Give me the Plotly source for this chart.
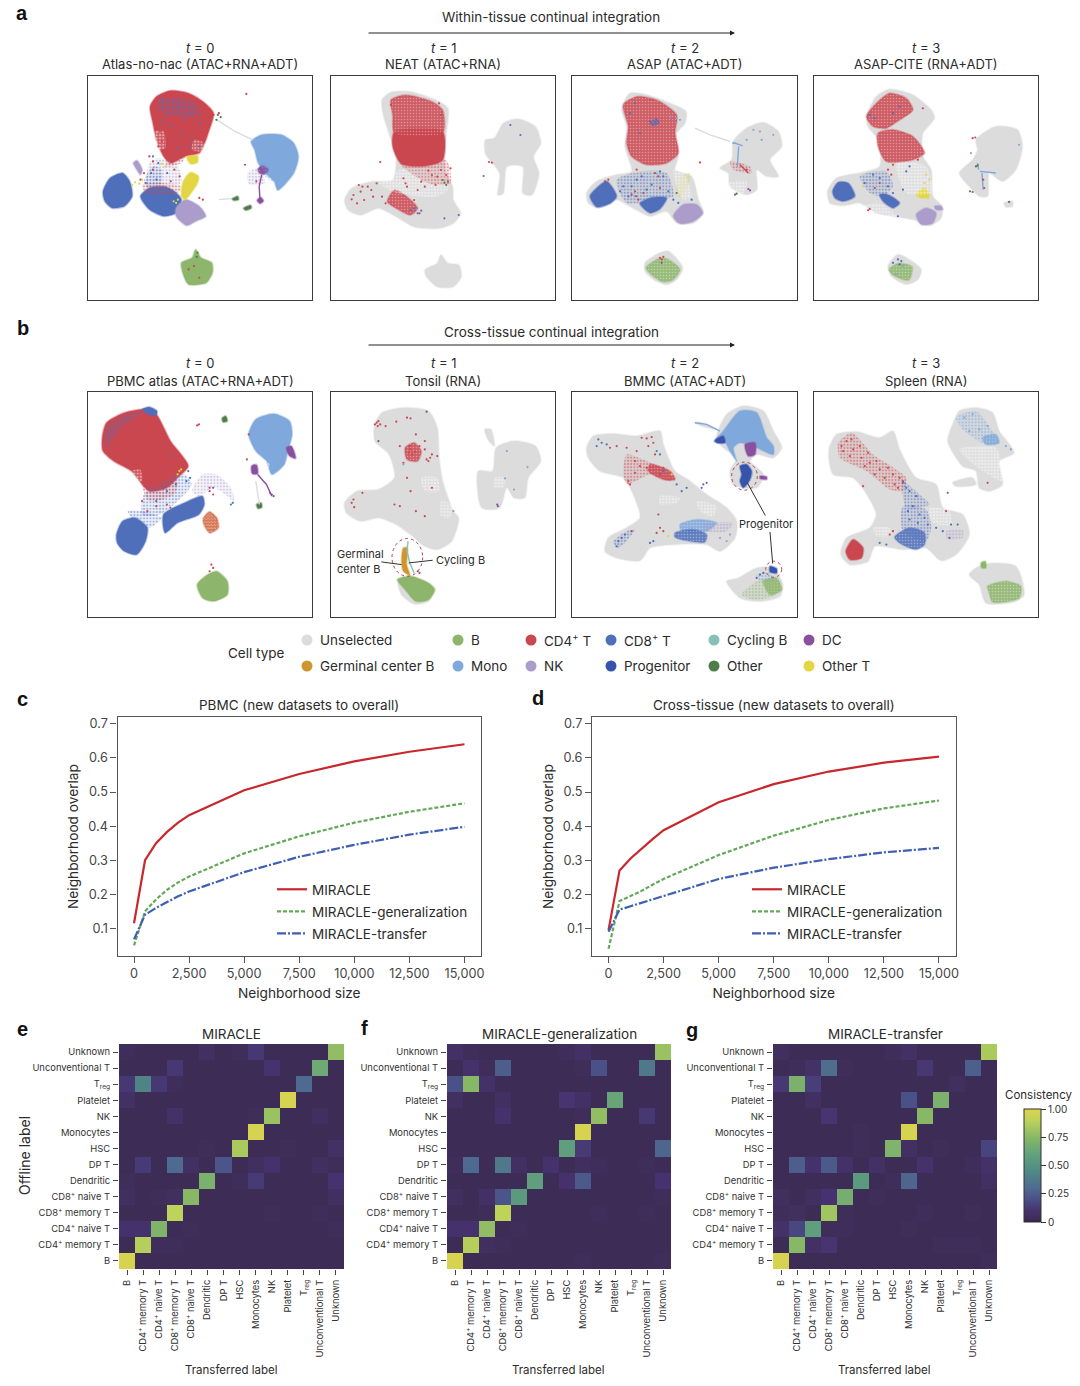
import plotly.graph_objects as go

W, H = 1080, 1386
FONT = "Inter"
DARK = "#2b2b2b"

COLORS = {"Unselected": "#dcdcdc", "B": "#8db56b", "CD4 T": "#cb4750", "CD8 T": "#4f6fbb",
          "Cycling B": "#86c0bb", "DC": "#8a4f9e", "Germinal": "#cf962e", "Mono": "#7fa8dc",
          "NK": "#ab9ccb", "Progenitor": "#3853ab", "Other": "#4f7d4a", "Other T": "#e3d645",
          "hole": "#ffffff"}

# ---- umap clouds (units of the crop, each panel has its own)
# DENSE solid clusters, MID speckled clusters, SPARSE thin clouds, POINTS single cells
A0_DENSE = [
    ("CD4 T", [(422,320),(440,290),(480,272),(530,280),(570,305),(600,340),(585,400),(575,430),(560,460),(520,470),(480,490),(460,470),(440,420),(430,370)]),
    ("Mono", [(705,425),(735,405),(790,405),(825,430),(838,470),(825,520),(780,572),(770,545),(745,520),(725,490),(715,450)]),
    ("CD8 T", [(290,575),(310,535),(345,520),(365,545),(372,590),(350,620),(315,625),(295,605)]),
    ("CD8 T", [(395,590),(420,565),(460,560),(490,575),(510,600),(495,640),(460,650),(420,630)]),
    ("NK", [(495,625),(520,600),(560,620),(578,650),(550,665),(525,678),(495,650)]),
    ("Other T", [(510,590),(515,545),(535,518),(558,530),(555,550),(530,590),(520,600)]),
    ("Other T", [(525,472),(555,468),(555,488),(535,492)]),
    ("NK", [(375,490),(385,482),(400,510),(395,525),(385,510)]),
    ("B", [(510,790),(540,775),(550,750),(565,775),(595,790),(597,820),(580,850),(530,855),(515,825)]),
    ("DC", [(724,508),(738,498),(754,510),(742,524),(728,520)]),
    ("DC", [(722,602),(732,593),(740,604),(730,612)]),
    ("Other", [(652,598),(668,590),(670,600),(656,602)]),
    ("Other", [(684,626),(704,617),(706,625),(690,632)]),
]
A0_SPARSE = [
    ("CD8 T", [(445,300),(510,295),(560,320),(545,350),(490,345),(450,335)]),
    ("hole", [(435,395),(460,395),(465,445),(440,450)]),
    ("hole", [(545,420),(575,430),(565,455),(540,450)]),
    ("NK", [(420,490),(445,475),(500,500),(510,550),(470,560),(415,560)]),
    ("CD4 T", [(470,470),(520,470),(510,490),(470,500)]),
    ("CD8 T", [(405,545),(430,500),(455,510),(450,560),(420,570)]),
    ("NK", [(695,520),(725,505),(745,550),(700,555)]),
    ("Mono", [(730,470),(760,500),(775,550),(745,530)]),
    ("CD4 T", [(400,555),(450,550),(510,560),(500,580),(410,580)]),
]
A0_STRANDS = [
    ("Unselected", [(610,360),(660,395),(710,420)]),
    ("DC", [(735,525),(728,560),(730,600)]),
    ("Unselected", [(615,600),(650,597)]),
]
A0_POINTS = {
    "CD8 T": [(470,350),(510,400),(530,440),(455,300),(560,370),(500,320),(560,345),(540,420),(480,380),(520,360),(455,365),(560,440),(500,445),(425,520),(440,540),(470,520),(410,550),(430,470),(445,490)],
    "Other T": [(380,548),(392,552),(372,556),(400,540),(495,610),(500,600),(488,605),(455,492),(465,500)],
    "CD4 T": [(692,282),(688,495),(720,545),(560,595),(570,600),(430,510),(545,800),(560,835),(530,810),(600,345),(615,340),(420,470),(430,485),(405,520),(395,540),(450,395),(445,440),(455,425),(460,455),(490,510),(505,530),(480,545)],
    "Other": [(612,345),(620,352),(608,360),(555,760),(553,772)],
}

A1_DENSE = [
    ("Unselected", [(1070,300),(1095,277),(1150,275),(1220,300),(1255,325),(1250,400),(1245,470),(1250,520),(1268,560),(1270,600),(1290,640),(1270,670),(1230,685),(1160,680),(1110,650),(1060,625),(1010,645),(975,630),(965,600),(985,565),(1040,545),(1100,540),(1110,480),(1090,400),(1075,350)]),
    ("Unselected", [(1385,415),(1410,370),(1450,357),(1500,380),(1515,430),(1495,470),(1510,520),(1490,585),(1465,580),(1465,500),(1420,500),(1410,580),(1395,585),(1400,520),(1360,460),(1360,420)]),
    ("Unselected", [(1190,810),(1225,790),(1235,765),(1255,790),(1285,795),(1292,830),(1270,860),(1225,860),(1195,830)]),
    ("CD4 T", [(1105,395),(1240,395),(1240,480),(1190,498),(1125,492),(1100,440)]),
]
A1_MID = [
    ("CD4 T", [(1095,300),(1135,285),(1210,305),(1240,330),(1240,400),(1105,400),(1100,345)]),
    ("CD4 T", [(1085,605),(1105,570),(1140,590),(1170,625),(1150,645),(1110,625)]),
]
A1_SPARSE = [
    ("hole", [(1060,545),(1120,510),(1240,510),(1255,570),(1220,590),(1100,575)]),
    ("CD4 T", [(1120,490),(1250,480),(1262,550),(1200,550)]),
]
A1_POINTS = {
    "CD4 T": [(1065,486),(1370,486),(1378,488),(1262,505),(1250,525),(1225,530),(1130,535),(1136,550),(1200,512),(1010,575),(1020,600),(985,598),(1030,560),(1045,590),(1005,555),(1190,560),(1175,640),(1210,525),(1095,315),(1235,345),(1230,310),(990,585),(1000,610),(1015,560),(1040,570),(1055,550),(1080,610),(1070,590),(1160,600),(1170,570),(1140,560),(1180,545),(1235,510),(1255,545),(1220,555)],
    "CD8 T": [(1160,625),(1150,630),(1170,640),(1180,632),(1245,655),(1285,645),(1355,528),(1430,375),(1458,405)],
    "Other": [(1245,548),(1240,540),(1250,555)],
}

A2_DENSE = [
    ("Unselected", [(190,310),(210,280),(260,285),(330,310),(378,335),(375,370),(350,400),(355,470),(345,510),(395,530),(415,600),(430,640),(400,670),(350,670),(320,635),(270,650),(210,620),(170,600),(115,625),(85,610),(80,580),(110,545),(170,525),(215,515),(195,440),(200,380),(185,330)]),
    ("Unselected", [(520,425),(560,385),(610,368),(655,395),(665,440),(630,480),(655,530),(620,530),(590,510),(590,570),(560,585),(510,560),(505,520),(480,505),(515,480)]),
    ("Unselected", [(255,790),(300,760),(325,755),(368,805),(350,840),(320,855),(280,840),(255,815)]),
    ("CD8 T", [(90,590),(110,565),(140,545),(170,590),(150,612),(110,622)]),
    ("CD8 T", [(240,612),(270,595),(320,595),(300,628),(270,640)]),
    ("NK", [(340,650),(370,615),(410,615),(428,640),(400,665),(360,672)]),
]
A2_MID = [
    ("CD4 T", [(190,315),(230,290),(290,300),(350,345),(345,400),(355,460),(320,490),(260,495),(215,470),(200,430),(205,380)]),
    ("B", [(258,805),(295,778),(320,778),(360,810),(338,842),(310,848),(282,832)]),
]
A2_SPARSE = [
    ("CD8 T", [(170,540),(240,515),(320,520),(340,590),(300,600),(200,610)]),
    ("Other T", [(345,585),(365,530),(390,520),(385,555),(360,595)]),
    ("CD4 T", [(510,485),(570,500),(575,520),(520,510)]),
    ("hole", [(340,510),(360,500),(395,590),(370,600)]),
    ("hole", [(505,550),(560,545),(550,580),(510,565)]),
]
A2_STRANDS = [
    ("Unselected", [(405,385),(450,405),(510,425)]),
    ("Mono", [(520,428),(548,438)]),
    ("Mono", [(536,440),(532,500)]),
    ("CD4 T", [(540,495),(565,520)]),
]
A2_POINTS = {
    "CD8 T": [(285,367),(280,362),(290,372),(275,370),(292,362),(284,374),(278,375),(295,368),(270,365),(288,358),(190,560),(230,540),(310,530),(260,570),(215,560),(340,600),(355,610),(395,600),(225,310),(210,340),(240,400),(350,580),(180,575),(205,590),(245,530),(275,555),(325,575),(300,515)],
    "Mono": [(350,355),(360,360),(330,350),(520,430),(560,420),(600,395),(640,405),(605,420),(580,390)],
    "CD4 T": [(135,545),(145,540),(225,575),(215,585),(228,590),(420,488),(560,510),(305,780),(300,775),(310,772),(295,530),(285,520),(230,510),(250,580),(300,565),(235,600)],
    "DC": [(565,568),(570,572),(305,790)],
    "Other": [(525,585),(530,582)],
}

A3_DENSE = [
    ("Unselected", [(920,350),(950,290),(990,268),(1060,285),(1115,330),(1125,355),(1090,400),(1090,470),(1115,510),(1120,590),(1148,620),(1145,655),(1110,678),(1060,660),(1000,650),(950,640),(900,610),(850,618),(810,610),(803,575),(830,535),(900,520),(960,500),(955,420),(925,380)]),
    ("Unselected", [(1250,420),(1310,380),(1375,390),(1390,440),(1370,510),(1330,545),(1290,520),(1285,590),(1260,590),(1230,560),(1200,520),(1240,480),(1255,450)]),
    ("Unselected", [(1335,610),(1360,605),(1360,620),(1340,622)]),
    ("Unselected", [(985,800),(1015,765),(1040,775),(1085,810),(1075,840),(1040,855),(995,830)]),
    ("CD8 T", [(818,575),(835,548),(865,550),(885,590),(850,605),(825,595)]),
    ("CD8 T", [(960,585),(985,585),(1020,610),(1000,625),(970,605)]),
    ("NK", [(1070,645),(1100,625),(1130,640),(1120,670),(1085,675)]),
    ("NK", [(1125,620),(1145,620),(1150,630),(1130,630)]),
    ("Other T", [(1070,585),(1095,565),(1110,590),(1085,595)]),
]
A3_MID = [
    ("CD4 T", [(920,350),(950,310),(990,280),(1040,295),(1060,330),(1020,360),(980,385),(940,380)]),
    ("CD4 T", [(955,400),(1000,390),(1060,410),(1095,460),(1060,480),(980,485),(955,440)]),
    ("B", [(988,810),(1015,792),(1058,802),(1048,842),(1002,828)]),
]
A3_SPARSE = [
    ("CD8 T", [(900,530),(980,515),(1000,560),(970,590),(930,580)]),
    ("hole", [(910,620),(960,610),(1010,650),(950,640)]),
    ("hole", [(1010,490),(1100,500),(1115,580),(1040,580)]),
]
A3_STRANDS = [
    ("Mono", [(1262,515),(1310,520)]),
    ("Mono", [(1268,520),(1272,570)]),
    ("Mono", [(1255,490),(1258,510)]),
]
A3_POINTS = {
    "Other": [(1255,497),(1250,500),(1232,575),(1240,577),(1350,607)],
    "CD4 T": [(1240,415),(1248,413),(1272,540),(1275,565),(925,632),(930,628),(1090,325),(985,510),(995,525),(960,550),(945,565),(1000,495),(1075,480)],
    "Other T": [(910,560),(1100,525),(1110,540),(1095,550),(1105,595)],
    "CD8 T": [(1020,795),(1015,780),(1025,785),(1000,790),(1040,515),(1050,500),(1015,650),(930,345),(945,355),(1000,340),(1020,320),(940,525),(960,535),(915,550),(985,560),(1000,580),(1030,570)],
    "Mono": [(1380,435),(1235,460),(1030,800),(1010,825)],
}

B0_DENSE = [
    ("CD4 T", [(288,370),(300,325),(350,295),(410,285),(440,300),(480,380),(530,455),(500,490),(470,520),(420,530),(370,470),(320,440),(290,410)]),
    ("CD8 T", [(400,285),(420,278),(442,290),(440,302),(415,298)]),
    ("CD8 T", [(328,660),(345,620),(380,610),(415,640),(410,680),(385,720),(350,710),(330,685)]),
    ("CD8 T", [(460,600),(520,565),(570,545),(575,570),(560,600),(500,625),(465,655)]),
    ("Mono", [(700,360),(720,315),(770,298),(815,320),(822,360),(810,410),(800,450),(765,480),(750,440),(720,410)]),
    ("B", [(555,810),(585,780),(610,770),(640,800),(640,840),(600,860),(570,850)]),
    ("DC", [(806,400),(820,395),(832,432),(815,425)]),
    ("Other", [(625,312),(635,305),(640,320),(628,323)]),
    ("Other", [(722,570),(735,565),(737,578),(726,582)]),
    ("DC", [(708,455),(722,450),(725,478),(710,478)]),
]
B0_MID = [
    ("CD4 T", [(572,612),(590,592),(610,610),(615,640),(590,655),(574,630)]),
]
B0_SPARSE = [
    ("NK", [(540,530),(570,480),(610,480),(650,520),(660,565),(640,545),(600,520),(560,545)]),
    ("CD8 T", [(405,540),(460,500),(520,480),(540,510),(500,560),(450,600),(400,600)]),
    ("hole", [(370,470),(395,465),(400,500),(370,495)]),
    ("Other T", [(570,610),(590,590),(610,610),(615,640),(590,655),(572,630)]),
    ("CD4 T", [(400,500),(500,500),(490,540),(420,560)]),
    ("hole", [(720,420),(760,450),(745,470),(715,445)]),
    ("CD8 T", [(360,590),(400,590),(455,610),(420,640),(370,610)]),
    ("CD8 T", [(300,340),(360,300),(400,295),(340,340),(300,400)]),
]
B0_STRANDS = [
    ("DC", [(725,480),(750,510),(765,545)]),
    ("Unselected", [(720,500),(730,570)]),
]
B0_POINTS = {
    "Other T": [(505,470),(500,480),(510,465)],
    "CD8 T": [(655,565),(650,570),(530,470),(535,490),(480,420),(420,520),(440,560),(470,530),(495,510),(525,500)],
    "CD4 T": [(555,333),(560,330),(700,360),(695,435),(600,760),(595,750),(590,770),(590,520),(600,540),(470,570),(480,580),(440,575),(415,590),(400,560)],
    "DC": [(765,540),(770,545),(760,535),(600,520),(590,530)],
}

B1_DENSE = [
    ("Unselected", [(1050,330),(1070,295),(1130,280),(1200,290),(1225,340),(1230,430),(1240,500),(1270,590),(1285,610),(1265,680),(1225,705),(1190,695),(1150,660),(1110,630),(1060,610),(1010,620),(970,595),(965,565),(1000,530),(1060,525),(1105,490),(1090,420),(1050,380)]),
    ("Unselected", [(1390,400),(1440,380),(1500,395),(1515,440),(1480,490),(1470,550),(1440,550),(1420,520),(1400,580),(1350,580),(1340,470),(1380,470)]),
    ("Unselected", [(1358,345),(1375,345),(1385,395),(1370,380)]),
    ("Unselected", [(1115,800),(1140,790),(1215,820),(1200,860),(1160,868),(1125,840)]),
    ("B", [(1113,795),(1150,785),(1200,805),(1218,825),(1200,855),(1165,860),(1135,825)]),
    ("Germinal", [(1130,700),(1141,700),(1139,750),(1148,782),(1130,770),(1125,740)]),
]
B1_MID = [
    ("CD4 T", [(1135,400),(1160,385),(1180,410),(1170,440),(1140,435)]),
]
B1_SPARSE = [
    ("hole", [(1180,490),(1225,490),(1230,530),(1190,530)]),
    ("hole", [(1235,560),(1265,570),(1260,610),(1235,605)]),
    ("hole", [(1385,490),(1415,490),(1410,520),(1385,520)]),
]
B1_STRANDS = [
    ("Cycling B", [(1143,680),(1140,710),(1148,745),(1160,775)]),
]
B1_POINTS = {
    "CD4 T": [(1055,325),(1060,320),(1050,330),(1065,330),(1058,335),(1080,335),(1110,322),(1140,310),(1150,312),(1165,360),(1190,405),(1195,435),(1205,430),(1210,420),(1225,425),(1120,395),(1130,445),(990,555),(985,565),(992,578),(1015,535),(1105,570),(1140,490),(1150,530),(1210,520),(1190,605),(1165,590),(1120,575),(1170,770),(1175,775),(1150,405),(1155,420),(1145,415),(1162,412),(1148,395),(1175,395),(1190,380),(1200,440)],
    "Mono": [(1420,410),(1478,458),(1415,492),(1440,525),(1130,450),(1270,590)],
    "DC": [(1393,570),(1395,575)],
    "Other": [(1195,292),(1060,380)],
}

B2_DENSE = [
    ("Unselected", [(80,400),(100,365),(160,358),(230,365),(300,350),(310,390),(345,470),(390,500),(440,540),(500,580),(530,620),(525,670),(480,710),(440,690),(340,690),(270,700),(240,738),(170,730),(135,710),(145,670),(200,640),(240,610),(220,540),(190,490),(120,470),(85,430)]),
    ("Unselected", [(470,370),(500,300),(550,275),(610,290),(640,350),(665,400),(640,430),(590,420),(570,440),(610,480),(590,520),(520,510),(510,470),(530,430),(490,400)]),
    ("Unselected", [(405,325),(425,325),(470,345),(425,335)]),
    ("Unselected", [(535,790),(590,760),(640,760),(668,810),(660,845),(600,860),(540,850),(500,800)]),
    ("Mono", [(490,350),(540,290),(590,295),(620,370),(640,395),(640,420),(590,400),(540,385),(520,400),(530,440),(510,410),(490,375),(462,382)]),
    ("Progenitor", [(540,455),(560,450),(575,470),(570,495),(550,520),(540,500),(545,480)]),
    ("Progenitor", [(465,378),(490,365),(495,385),(470,385)]),
    ("Progenitor", [(630,755),(650,762),(650,775),(630,772)]),
    ("DC", [(555,390),(585,385),(585,420),(565,425)]),
    ("DC", [(600,485),(620,487),(620,495),(600,492)]),
]
B2_MID = [
    ("CD4 T", [(270,450),(330,470),(345,495),(310,495),(265,470)]),
    ("Mono", [(360,630),(410,615),(470,625),(440,650),(365,650)]),
    ("CD8 T", [(345,655),(400,645),(440,660),(435,682),(390,680),(345,668)]),
    ("B", [(610,800),(650,790),(665,825),(630,840)]),
]
B2_SPARSE = [
    ("CD4 T", [(200,420),(260,440),(340,480),(330,500),(270,480),(200,510),(190,470)]),
    ("NK", [(430,630),(520,625),(500,650),(440,650)]),
    ("CD8 T", [(160,680),(200,650),(225,645),(190,690),(170,700)]),
    ("B", [(545,840),(590,800),(640,790),(665,820),(640,845),(580,855)]),
    ("Mono", [(590,780),(630,775),(640,795),(600,800)]),
    ("hole", [(300,545),(360,550),(350,565),(300,570)]),
    ("hole", [(410,560),(470,575),(460,605),(420,590)]),
]
B2_STRANDS = [
    ("Mono", [(405,325),(440,330),(480,350)]),
]
B2_POINTS = {
    "CD8 T": [(110,395),(125,385),(140,390),(115,375),(290,410),(300,420),(380,520),(430,510),(440,505),(425,520),(280,680),(270,685),(600,780),(610,775),(590,790),(310,470),(350,510),(365,530),(175,680),(185,670),(195,660),(170,695)],
    "CD4 T": [(260,372),(245,370),(275,368),(280,385),(225,440),(300,640),(310,650),(290,655),(295,600),(215,650),(200,400),(170,395),(150,400),(230,410),(265,395),(285,420),(310,460),(210,510),(205,500),(240,455),(260,460),(225,475),(300,480)],
    "NK": [(500,680),(480,670),(510,660)],
    "Other T": [(335,480),(325,665)],
}

B3_DENSE = [
    ("Unselected", [(808,400),(830,360),(890,352),(960,370),(1000,350),(1020,405),(1070,490),(1130,510),(1150,580),(1210,600),(1230,660),(1190,720),(1145,738),(1100,700),(1030,705),(945,695),(925,740),(870,750),(843,720),(860,670),(930,640),(950,600),(915,530),(880,490),(820,480),(808,440)]),
    ("Unselected", [(1180,330),(1200,290),(1250,280),(1300,295),(1320,350),(1365,415),(1320,440),(1330,510),(1290,530),(1260,520),(1250,470),(1210,455),(1165,380)]),
    ("Unselected", [(1180,505),(1240,490),(1250,510),(1190,515)]),
    ("Unselected", [(1230,780),(1270,750),(1370,755),(1395,840),(1370,860),(1280,865),(1260,810)]),
    ("CD4 T", [(858,710),(880,675),(910,700),(905,730),(870,735)]),
    ("B", [(1265,745),(1278,740),(1280,760),(1268,760)]),
]
B3_MID = [
    ("CD8 T", [(1005,668),(1050,640),(1095,655),(1095,690),(1070,705),(1020,685)]),
    ("B", [(1285,815),(1340,800),(1385,815),(1380,850),(1300,862),(1290,835)]),
    ("Mono", [(1270,370),(1310,360),(1320,385),(1280,390)]),
]
B3_SPARSE = [
    ("CD4 T", [(835,385),(875,355),(940,420),(1040,490),(1030,530),(990,525),(920,470),(840,430)]),
    ("CD8 T", [(1030,575),(1100,585),(1115,640),(1100,680),(1030,650)]),
    ("CD8 T", [(1030,500),(1080,540),(1110,570),(1040,580)]),
    ("NK", [(1160,650),(1210,645),(1210,670),(1165,675)]),
    ("Mono", [(1190,310),(1250,290),(1300,350),(1320,385),(1280,390),(1210,345)]),
    ("hole", [(1110,580),(1170,590),(1175,630),(1120,625)]),
    ("hole", [(1200,405),(1310,400),(1330,500),(1270,470)]),
    ("hole", [(940,640),(990,640),(990,665),(950,665)]),
]
B3_POINTS = {
    "CD8 T": [(1130,640),(1150,650),(1175,630),(1195,630),(1170,670),(960,685),(980,690),(1165,535),(1050,530),(1045,590),(1060,575),(1080,600),(1095,610),(1050,615),(1075,625),(1105,630),(1030,500),(1040,520),(1070,545)],
    "CD4 T": [(990,660),(1000,650),(910,515),(1285,505),(1160,590),(845,395),(860,380),(875,375),(850,410),(880,405),(900,395),(870,425),(905,430),(925,415),(930,445),(950,440),(915,455),(960,465),(985,460),(975,490),(1000,480),(1020,490),(1005,510),(1030,505),(1015,520),(945,480)],
    "Mono": [(1340,395),(1355,405),(1215,310),(1240,300),(1260,345),(1230,350),(1285,335)],
}

# ---- panel c / d
NEIGHBORHOOD = [0, 500, 1000, 1500, 2000, 2500, 5000, 7500, 10000, 12500, 15000]
C_MIRACLE = [0.115, 0.300, 0.350, 0.383, 0.410, 0.432, 0.505, 0.553, 0.590, 0.618, 0.640]
C_GENERAL = [0.050, 0.150, 0.185, 0.213, 0.235, 0.252, 0.320, 0.370, 0.410, 0.442, 0.467]
C_TRANSFER = [0.068, 0.140, 0.160, 0.178, 0.194, 0.208, 0.265, 0.310, 0.345, 0.375, 0.398]
D_MIRACLE = [0.095, 0.270, 0.305, 0.335, 0.362, 0.388, 0.470, 0.523, 0.560, 0.586, 0.604]
D_GENERAL = [0.040, 0.180, 0.195, 0.210, 0.228, 0.245, 0.315, 0.372, 0.418, 0.452, 0.475]
D_TRANSFER = [0.090, 0.155, 0.165, 0.175, 0.187, 0.197, 0.245, 0.278, 0.303, 0.323, 0.336]

# ---- panels e / f / g, rows from B (bottom) to Unknown (top)
LABELS = ["B", "CD4<sup>+</sup> memory T", "CD4<sup>+</sup> naive T", "CD8<sup>+</sup> memory T",
          "CD8<sup>+</sup> naive T", "Dendritic", "DP T", "HSC", "Monocytes", "NK", "Platelet",
          "T<sub>reg</sub>", "Unconventional T", "Unknown"]
E_MATRIX = [
    [.97,.02,.02,.02,.02,.02,.02,.02,.02,.02,.02,.02,.02,.02],
    [.02,.88,.04,.03,.02,.02,.02,.02,.02,.02,.02,.02,.02,.02],
    [.09,.09,.72,.02,.03,.02,.02,.02,.02,.02,.02,.02,.02,.04],
    [.02,.02,.02,.90,.02,.02,.02,.02,.02,.03,.02,.02,.03,.02],
    [.05,.02,.03,.05,.75,.02,.02,.02,.02,.02,.02,.02,.02,.05],
    [.03,.02,.02,.02,.02,.70,.02,.03,.13,.02,.02,.02,.02,.10],
    [.02,.13,.02,.30,.06,.02,.22,.02,.05,.09,.02,.02,.05,.03],
    [.02,.02,.02,.02,.02,.03,.02,.85,.02,.02,.03,.02,.02,.07],
    [.02,.02,.02,.02,.02,.02,.02,.02,.97,.02,.02,.02,.02,.02],
    [.02,.02,.02,.08,.02,.02,.02,.02,.03,.80,.02,.02,.05,.02],
    [.07,.02,.02,.02,.02,.02,.02,.02,.02,.02,.97,.02,.02,.02],
    [.12,.42,.12,.04,.02,.02,.02,.02,.02,.02,.02,.30,.02,.02],
    [.02,.02,.02,.12,.02,.02,.02,.02,.02,.10,.02,.02,.65,.02],
    [.04,.02,.02,.02,.02,.06,.02,.03,.12,.02,.02,.02,.02,.78],
]
F_MATRIX = [
    [.97,.02,.02,.02,.02,.02,.02,.02,.03,.02,.02,.02,.02,.03],
    [.02,.88,.05,.03,.02,.02,.02,.02,.02,.02,.02,.02,.02,.02],
    [.09,.09,.78,.02,.03,.02,.02,.02,.02,.02,.02,.02,.02,.02],
    [.02,.02,.03,.90,.02,.02,.02,.02,.02,.04,.02,.02,.03,.02],
    [.05,.02,.07,.22,.55,.02,.02,.02,.02,.02,.02,.02,.02,.03],
    [.02,.02,.02,.02,.02,.58,.02,.09,.24,.02,.02,.02,.02,.10],
    [.03,.30,.02,.37,.06,.02,.09,.02,.05,.04,.02,.02,.03,.02],
    [.02,.02,.02,.02,.02,.02,.02,.58,.13,.02,.02,.02,.02,.28],
    [.02,.02,.02,.02,.02,.02,.02,.02,.97,.02,.02,.02,.02,.02],
    [.02,.02,.02,.09,.02,.02,.02,.02,.04,.78,.02,.02,.12,.02],
    [.06,.02,.02,.06,.02,.02,.02,.11,.07,.02,.62,.02,.02,.02],
    [.20,.75,.08,.02,.02,.02,.02,.02,.02,.02,.02,.02,.02,.02],
    [.02,.09,.03,.25,.02,.02,.02,.02,.03,.20,.02,.02,.37,.02],
    [.07,.03,.02,.02,.02,.02,.02,.03,.07,.02,.02,.02,.02,.80],
]
G_MATRIX = [
    [.97,.02,.02,.02,.02,.02,.02,.02,.02,.02,.02,.02,.02,.03],
    [.02,.75,.07,.11,.02,.02,.02,.02,.02,.02,.03,.03,.03,.02],
    [.08,.17,.58,.03,.04,.02,.02,.02,.03,.02,.02,.02,.02,.02],
    [.03,.05,.02,.82,.03,.02,.02,.02,.02,.04,.02,.02,.03,.02],
    [.05,.02,.05,.10,.68,.02,.03,.02,.02,.02,.02,.02,.02,.02],
    [.02,.02,.02,.02,.02,.55,.02,.03,.28,.02,.02,.02,.02,.06],
    [.02,.25,.09,.24,.08,.02,.07,.02,.02,.09,.02,.02,.04,.08],
    [.02,.02,.02,.02,.02,.03,.02,.72,.06,.02,.03,.02,.02,.16],
    [.02,.02,.02,.02,.02,.03,.02,.02,.97,.02,.02,.02,.02,.02],
    [.02,.02,.02,.11,.02,.02,.02,.02,.02,.75,.02,.02,.02,.02],
    [.02,.02,.06,.02,.02,.02,.02,.02,.20,.02,.70,.02,.02,.02],
    [.12,.70,.14,.02,.02,.02,.02,.02,.02,.02,.02,.05,.02,.02],
    [.02,.03,.08,.32,.03,.02,.02,.02,.02,.12,.02,.02,.26,.02],
    [.05,.02,.02,.02,.02,.02,.02,.03,.07,.02,.02,.02,.02,.85],
]
CONSISTENCY_SCALE = [[0, "#2a1e4e"], [.02, "#3d2d56"], [.1, "#46326e"], [.2, "#4a5088"], [.3, "#4f6a90"],
                     [.45, "#4f8a84"], [.6, "#62a27c"], [.75, "#88b866"], [.9, "#bdd35a"], [1, "#dfd34a"]]

CELL_LEGEND = [["Unselected", "B", "CD4 T", "CD8 T", "Cycling B", "DC"],
               ["Germinal", "Mono", "NK", "Progenitor", "Other", "Other T"]]
CELL_NAMES = {"Germinal": "Germinal center B", "CD4 T": "CD4<sup>+</sup> T", "CD8 T": "CD8<sup>+</sup> T"}
LEGEND_COLS = [307, 458, 531, 611, 714, 809]
LEGEND_ROWS = [640, 666]

fig = go.Figure()
axis_no = 0


def new_axes(box, xcfg, ycfg):
    # box is left, top, right, bottom in page pixels
    global axis_no
    axis_no += 1
    s = "" if axis_no == 1 else str(axis_no)
    l, t, r, b = box
    fig.layout["xaxis" + s] = dict(domain=[l / W, r / W], anchor="y" + s, **xcfg)
    fig.layout["yaxis" + s] = dict(domain=[1 - b / H, 1 - t / H], anchor="x" + s, **ycfg)
    return "x" + s, "y" + s


def xy(pts):
    pts = list(pts)
    return [p[0] for p in pts], [p[1] for p in pts]


def rgba(hex_color, alpha):
    r, g, b = int(hex_color[1:3], 16), int(hex_color[3:5], 16), int(hex_color[5:7], 16)
    return "rgba(%d,%d,%d,%s)" % (r, g, b, alpha)


def umap_panel(box, xr, yr, dense, mid, sparse, strands, points):
    frame = dict(showline=True, mirror=True, linecolor="#3a3a3a", linewidth=1.2,
                 showgrid=False, zeroline=False, showticklabels=False, ticks="")
    xa, ya = new_axes(box, dict(range=xr, **frame), dict(range=yr, **frame))
    for kind, outline in dense:
        x, y = xy(outline + outline[:1])
        fig.add_trace(go.Scatter(x=x, y=y, xaxis=xa, yaxis=ya, mode="lines", fill="toself",
                                 fillcolor=COLORS[kind],
                                 line=dict(width=2, color=rgba(COLORS[kind], 0.4), shape="spline", smoothing=0.7),
                                 hoverinfo="skip", showlegend=False))
    for kind, outline in mid:
        x, y = xy(outline + outline[:1])
        fig.add_trace(go.Scatter(x=x, y=y, xaxis=xa, yaxis=ya, mode="lines", fill="toself",
                                 fillcolor="rgba(0,0,0,0)",
                                 fillpattern=dict(shape=".", size=3, solidity=0.22, fgcolor="rgba(255,255,255,0.7)",
                                                  bgcolor=rgba(COLORS[kind], 0.85)),
                                 line=dict(width=2, color=rgba(COLORS[kind], 0.3), shape="spline", smoothing=0.7),
                                 hoverinfo="skip", showlegend=False))
    for kind, outline in sparse:
        x, y = xy(outline + outline[:1])
        fig.add_trace(go.Scatter(x=x, y=y, xaxis=xa, yaxis=ya, mode="lines", fill="toself",
                                 fillcolor="rgba(0,0,0,0)",
                                 fillpattern=dict(shape=".", size=3.2, solidity=0.35, fgcolor=COLORS[kind],
                                                  bgcolor=rgba(COLORS[kind], 0.1)),
                                 line=dict(width=0, shape="spline", smoothing=0.7),
                                 hoverinfo="skip", showlegend=False))
    for kind, path in strands:
        x, y = xy(path)
        fig.add_trace(go.Scatter(x=x, y=y, xaxis=xa, yaxis=ya, mode="lines",
                                 line=dict(width=1.4, color=COLORS[kind]), hoverinfo="skip", showlegend=False))
    for kind, pts in points.items():
        x, y = xy(pts)
        fig.add_trace(go.Scatter(x=x, y=y, xaxis=xa, yaxis=ya, mode="markers",
                                 marker=dict(size=2.2, color=COLORS[kind]), hoverinfo="skip", showlegend=False))
    return xa, ya


notes = []


def text(x, y, s, size=13, anchor="center", color=DARK, **kw):
    notes.append(dict(x=x / W, y=1 - y / H, xref="paper", yref="paper", text=s, showarrow=False,
                      xanchor=anchor, yanchor="middle", font=dict(family=FONT, size=size, color=color), **kw))


COLS = [(88, 312), (331, 555), (572, 797), (814, 1038)]

umap_panel((88, 76, 312, 300), [248, 876], [902, 228], A0_DENSE, [], A0_SPARSE, A0_STRANDS, A0_POINTS)
umap_panel((331, 76, 555, 300), [927, 1555], [900, 228], A1_DENSE, A1_MID, A1_SPARSE, [], A1_POINTS)
umap_panel((572, 76, 797, 300), [36, 711], [902, 228], A2_DENSE, A2_MID, A2_SPARSE, A2_STRANDS, A2_POINTS)
umap_panel((814, 76, 1038, 300), [762, 1437], [902, 228], A3_DENSE, A3_MID, A3_SPARSE, A3_STRANDS, A3_POINTS)
umap_panel((88, 392, 312, 617), [248, 878], [907, 233], B0_DENSE, B0_MID, B0_SPARSE, B0_STRANDS, B0_POINTS)
tonsil = umap_panel((331, 392, 555, 617), [927, 1555], [907, 233], B1_DENSE, B1_MID, B1_SPARSE, B1_STRANDS, B1_POINTS)
bmmc = umap_panel((572, 392, 797, 617), [36, 711], [907, 233], B2_DENSE, B2_MID, B2_SPARSE, B2_STRANDS, B2_POINTS)
umap_panel((814, 392, 1038, 617), [762, 1437], [907, 233], B3_DENSE, B3_MID, B3_SPARSE, [], B3_POINTS)

shapes = []
ELLIPSE = dict(type="circle", line=dict(color="#a8434f", width=1, dash="dot"))
shapes.append(dict(xref=tonsil[0], yref=tonsil[1], x0=1098, x1=1184, y0=672, y1=785, **ELLIPSE))
shapes.append(dict(xref=bmmc[0], yref=bmmc[1], x0=515, x1=592, y0=443, y1=527, **ELLIPSE))
shapes.append(dict(xref=bmmc[0], yref=bmmc[1], x0=617, x1=665, y0=740, y1=788, **ELLIPSE))
CALLOUT = dict(type="line", line=dict(color="#333333", width=1))
shapes.append(dict(xref=tonsil[0], yref=tonsil[1], x0=1068, y0=742, x1=1125, y1=750, **CALLOUT))
shapes.append(dict(xref=tonsil[0], yref=tonsil[1], x0=1212, y0=737, x1=1145, y1=745, **CALLOUT))
shapes.append(dict(xref=bmmc[0], yref=bmmc[1], x0=562, y0=505, x1=616, y1=603, **CALLOUT))
shapes.append(dict(xref=bmmc[0], yref=bmmc[1], x0=630, y0=652, x1=638, y1=747, **CALLOUT))

# line charts
LINE_STYLES = [("MIRACLE", "#c8282d", "solid", 2.2), ("MIRACLE-generalization", "#64a85a", "4px,2px", 2.2),
               ("MIRACLE-transfer", "#3f5fb0", "9px,2px,2px,2px", 2.2)]
for box, title, series, legend_name, legend_x in [
    ((117.5, 717, 481, 956), "PBMC (new datasets to overall)", (C_MIRACLE, C_GENERAL, C_TRANSFER), "legend", 272),
    ((592, 717, 955.5, 956), "Cross-tissue (new datasets to overall)", (D_MIRACLE, D_GENERAL, D_TRANSFER), "legend2", 747),
]:
    frame = dict(showline=True, mirror=True, linecolor="#555555", linewidth=1.2, showgrid=False, zeroline=False,
                 ticks="outside", ticklen=6, tickcolor="#555555", tickfont=dict(family=FONT, size=12.7, color="#444444"))
    xa, ya = new_axes(box,
                      dict(range=[-750, 15750], tickvals=[0, 2500, 5000, 7500, 10000, 12500, 15000], tickformat=",",
                           title=dict(text="Neighborhood size", standoff=8, font=dict(family=FONT, size=13.7, color=DARK)), **frame),
                      dict(range=[0.019, 0.72], tickvals=[.1, .2, .3, .4, .5, .6, .7],
                           title=dict(text="Neighborhood overlap", standoff=6, font=dict(family=FONT, size=13.7, color=DARK)), **frame))
    for values, (name, color, dash, width) in zip(series, LINE_STYLES):
        fig.add_trace(go.Scatter(x=NEIGHBORHOOD, y=values, xaxis=xa, yaxis=ya, name=name, mode="lines",
                                 legend=legend_name, legendgroup=legend_name + name,
                                 line=dict(color=color, dash=dash, width=width)))
    text((box[0] + box[2]) / 2, 705, title, size=13.5)
    fig.layout[legend_name] = dict(x=legend_x / W, y=1 - 874 / H, xanchor="left", yanchor="top",
                                   bgcolor="rgba(0,0,0,0)", tracegroupgap=1.5, itemwidth=30,
                                   font=dict(family=FONT, size=13.5, color=DARK))

# heatmaps
for box, title, matrix in [((119, 1044, 344, 1269), "MIRACLE", E_MATRIX),
                           ((447, 1044, 671, 1269), "MIRACLE-generalization", F_MATRIX),
                           ((773, 1044, 997, 1269), "MIRACLE-transfer", G_MATRIX)]:
    frame = dict(ticks="outside", ticklen=5, tickcolor="#444444", showgrid=False, zeroline=False, showline=False,
                 tickfont=dict(family=FONT, size=9.4, color="#333333"), tickmode="array",
                 tickvals=LABELS, ticktext=LABELS, ticklabelstandoff=1)
    xa, ya = new_axes(box, dict(tickangle=-90, **frame), dict(**frame))
    fig.add_trace(go.Heatmap(z=matrix, x=LABELS, y=LABELS, xaxis=xa, yaxis=ya, coloraxis="coloraxis",
                             xgap=0, ygap=0))
    text((box[0] + box[2]) / 2, 1034, title, size=13.5)
    text((box[0] + box[2]) / 2 - 1, 1370, "Transferred label", size=11.5)

fig.update_layout(coloraxis=dict(colorscale=CONSISTENCY_SCALE, cmin=0, cmax=1,
                                 colorbar=dict(x=1024 / W, xanchor="left", y=1 - 1222 / H, yanchor="bottom",
                                               len=113 / H, lenmode="fraction", thickness=17, thicknessmode="pixels",
                                               xpad=0, ypad=0, outlinewidth=1, outlinecolor="#333333",
                                               tickvals=[0, .25, .5, .75, 1], ticktext=["0", "0.25", "0.50", "0.75", "1.00"],
                                               ticks="outside", ticklen=5, tickcolor="#333333",
                                               tickfont=dict(family=FONT, size=10, color="#333333"))))

# cell type legend
legend_x, legend_y, legend_c = [], [], []
for j, row in enumerate(CELL_LEGEND):
    for i, kind in enumerate(row):
        legend_x.append(LEGEND_COLS[i])
        legend_y.append(LEGEND_ROWS[j])
        legend_c.append(COLORS[kind])
        text(LEGEND_COLS[i] + 11, LEGEND_ROWS[j], CELL_NAMES.get(kind, kind), size=13.5, anchor="left")
xa, ya = new_axes((0, 625, 1080, 680), dict(range=[0, W], visible=False), dict(range=[680, 625], visible=False))
fig.add_trace(go.Scatter(x=legend_x, y=legend_y, xaxis=xa, yaxis=ya, mode="markers",
                         marker=dict(size=11, color=legend_c), hoverinfo="skip", showlegend=False))
text(256, 652.5, "Cell type", size=13.5)

# headings
for (l, r), head, name in zip(COLS,
                              ["<i>t</i> = 0", "<i>t</i> = 1", "<i>t</i> = 2", "<i>t</i> = 3"],
                              ["Atlas-no-nac (ATAC+RNA+ADT)", "NEAT (ATAC+RNA)", "ASAP (ATAC+ADT)", "ASAP-CITE (RNA+ADT)"]):
    text((l + r) / 2, 48, head, size=13)
    text((l + r) / 2, 64, name, size=13)
for (l, r), head, name in zip(COLS,
                              ["<i>t</i> = 0", "<i>t</i> = 1", "<i>t</i> = 2", "<i>t</i> = 3"],
                              ["PBMC atlas (ATAC+RNA+ADT)", "Tonsil (RNA)", "BMMC (ATAC+ADT)", "Spleen (RNA)"]):
    text((l + r) / 2, 363.5, head, size=13)
    text((l + r) / 2, 381, name, size=13)

text(551, 17, "Within-tissue continual integration", size=13.5)
text(551, 332, "Cross-tissue continual integration", size=13.5)
for y in (33, 345):
    notes.append(dict(x=735 / W, y=1 - y / H, ax=-368, ay=0, xref="paper", yref="paper",
                      axref="pixel", ayref="pixel", text="", showarrow=True, arrowhead=2,
                      arrowwidth=1, arrowsize=1, arrowcolor="#222222"))

text(335, 554, "Germinal", size=11, anchor="left")
text(335, 569, "center B", size=11, anchor="left")
text(434, 560, "Cycling B", size=11, anchor="left")
text(737, 524, "Progenitor", size=11, anchor="left")

text(1039, 1095, "Consistency", size=11.5)
text(24, 1156, "Offline label", size=14, textangle=-90)

for letter, x, y in [("a", 22, 13), ("b", 23, 328), ("c", 22, 699), ("d", 538, 698),
                     ("e", 22, 1029), ("f", 364, 1028), ("g", 692, 1030)]:
    text(x, y, "<b>%s</b>" % letter, size=20, color="#111111")
    notes[-1]["font"]["family"] = "Liberation Sans"

fig.update_layout(width=W, height=H, margin=dict(l=0, r=0, t=0, b=0, autoexpand=False),
                  plot_bgcolor="white", paper_bgcolor="white",
                  annotations=notes, shapes=shapes, font=dict(family=FONT))
fig.write_html("out.html", post_script="document.body.style.margin='0';", config={"displayModeBar": False})
